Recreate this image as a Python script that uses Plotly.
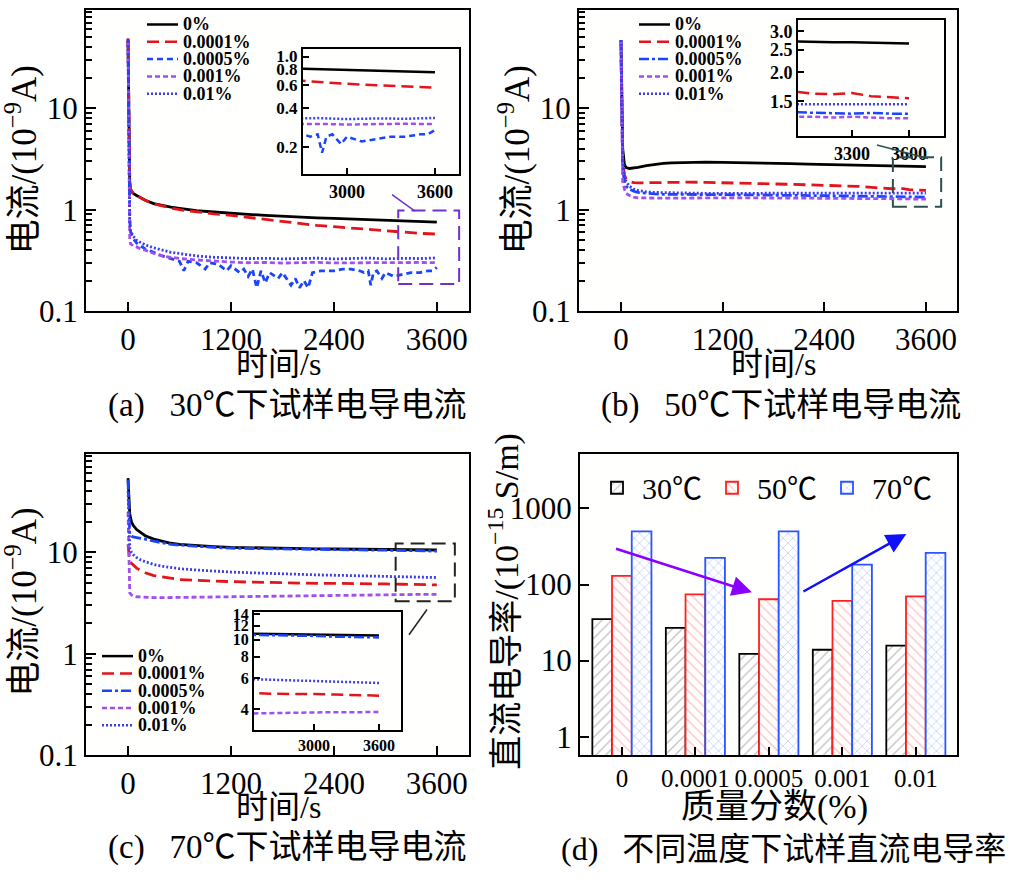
import math
import plotly.graph_objects as go

W, H = 1021, 884
FONT = "Liberation Serif, Noto Sans CJK SC, serif"

# ---------------- data ----------------
series_names = ["0%", "0.0001%", "0.0005%", "0.001%", "0.01%"]

# (a) 30 C
t_a = [0, 10, 20, 30, 60, 100, 150, 200, 300, 400, 500, 600, 800, 1000, 1200, 1400,
       1600, 1800, 2000, 2200, 2400, 2600, 2800, 3000, 3200, 3400, 3600]
a_0 = [48, 4.0, 1.8, 1.55, 1.45, 1.38, 1.30, 1.24, 1.15, 1.10, 1.06, 1.03, 0.98, 0.95, 0.92, 0.90,
       0.88, 0.86, 0.85, 0.83, 0.82, 0.81, 0.80, 0.79, 0.78, 0.765, 0.755]
a_1 = [49, 5.0, 2.0, 1.6, 1.45, 1.38, 1.30, 1.24, 1.14, 1.08, 1.04, 1.00, 0.95, 0.91, 0.88, 0.84,
       0.80, 0.76, 0.73, 0.70, 0.68, 0.66, 0.635, 0.615, 0.60, 0.585, 0.575]
a_3 = [45, 2.0, 0.50, 0.46, 0.44, 0.43, 0.41, 0.40, 0.37, 0.35, 0.34, 0.33, 0.32, 0.31, 0.305, 0.30,
       0.302, 0.298, 0.30, 0.303, 0.299, 0.30, 0.301, 0.298, 0.30, 0.302, 0.30]
a_4 = [46, 3.0, 0.75, 0.62, 0.55, 0.50, 0.47, 0.45, 0.42, 0.40, 0.38, 0.37, 0.35, 0.34, 0.335, 0.33,
       0.332, 0.328, 0.33, 0.333, 0.327, 0.33, 0.334, 0.328, 0.332, 0.33, 0.335]
t_a2 = [0, 10, 20, 30, 60, 100, 150, 200, 300, 400, 500, 600, 650, 700, 800, 900, 950, 1050, 1150,
        1200, 1300, 1350, 1400, 1450, 1500, 1550, 1600, 1650, 1750, 1800, 1900, 1950, 2000, 2050,
        2100, 2150, 2250, 2400, 2500, 2600, 2700, 2750, 2800, 2830, 2860, 2900, 2960, 3000, 3050,
        3100, 3200, 3300, 3400, 3500, 3550, 3600]
a_2 = [47, 3.0, 0.8, 0.6, 0.52, 0.47, 0.44, 0.41, 0.38, 0.35, 0.33, 0.31, 0.25, 0.31, 0.30, 0.26,
       0.30, 0.29, 0.25, 0.28, 0.24, 0.26, 0.22, 0.26, 0.17, 0.25, 0.19, 0.24, 0.21, 0.24, 0.18, 0.21,
       0.17, 0.20, 0.17, 0.24, 0.25, 0.25, 0.26, 0.26, 0.25, 0.24, 0.25, 0.18, 0.24, 0.25, 0.21, 0.24,
       0.23, 0.22, 0.23, 0.24, 0.24, 0.25, 0.25, 0.27]

# (b) 50 C
t_b = [0, 10, 20, 40, 60, 100, 150, 200, 300, 400, 500, 600, 800, 1000, 1200, 1400, 1600, 1800,
       2000, 2200, 2400, 2600, 2800, 3000, 3100, 3200, 3300, 3400, 3500, 3600]
b_0 = [47, 10, 4.0, 2.8, 2.6, 2.55, 2.58, 2.62, 2.72, 2.80, 2.86, 2.90, 2.93, 2.94, 2.93, 2.92, 2.90,
       2.88, 2.85, 2.82, 2.80, 2.77, 2.74, 2.71, 2.70, 2.69, 2.69, 2.68, 2.67, 2.66]
b_1 = [30, 6.0, 3.0, 2.2, 2.0, 1.90, 1.85, 1.84, 1.85, 1.86, 1.87, 1.88, 1.87, 1.86, 1.85, 1.83, 1.82,
       1.80, 1.78, 1.76, 1.74, 1.72, 1.70, 1.65, 1.62, 1.61, 1.63, 1.58, 1.56, 1.55]
b_2 = [47, 6.0, 2.5, 1.9, 1.7, 1.60, 1.52, 1.48, 1.45, 1.43, 1.42, 1.42, 1.41, 1.41, 1.41, 1.40, 1.40,
       1.39, 1.39, 1.38, 1.38, 1.37, 1.36, 1.35, 1.34, 1.34, 1.33, 1.34, 1.33, 1.33]
b_3 = [45, 4.0, 1.9, 1.6, 1.45, 1.38, 1.33, 1.31, 1.30, 1.30, 1.30, 1.30, 1.31, 1.31, 1.31, 1.31, 1.30,
       1.30, 1.30, 1.30, 1.30, 1.30, 1.30, 1.29, 1.29, 1.28, 1.29, 1.28, 1.27, 1.27]
b_4 = [47, 8.0, 3.0, 2.2, 1.9, 1.70, 1.60, 1.55, 1.50, 1.48, 1.47, 1.46, 1.46, 1.45, 1.45, 1.45, 1.45,
       1.46, 1.45, 1.45, 1.46, 1.45, 1.46, 1.46, 1.46, 1.45, 1.46, 1.46, 1.45, 1.46]

# (c) 70 C
t_c = [0, 10, 20, 40, 60, 100, 150, 200, 300, 400, 500, 600, 800, 1000, 1200, 1400, 1600, 1800,
       2000, 2200, 2400, 2600, 2800, 3000, 3200, 3400, 3600]
c_0 = [54, 30, 24, 20, 18.5, 16.8, 15.5, 14.6, 13.5, 12.8, 12.3, 12.0, 11.6, 11.4, 11.2, 11.1, 11.0,
       10.95, 10.9, 10.85, 10.8, 10.75, 10.7, 10.7, 10.65, 10.6, 10.55]
c_1 = [12, 9.0, 8.2, 7.8, 7.5, 7.0, 6.6, 6.3, 5.9, 5.7, 5.5, 5.4, 5.3, 5.2, 5.15, 5.1, 5.05,
       5.0, 5.0, 4.95, 4.95, 4.9, 4.9, 4.88, 4.85, 4.8, 4.78]
c_2 = [52, 20, 15, 14.5, 14.2, 14.0, 13.8, 13.5, 12.9, 12.4, 12.0, 11.8, 11.4, 11.2, 11.0, 10.9, 10.85,
       10.8, 10.75, 10.7, 10.7, 10.6, 10.55, 10.5, 10.4, 10.35, 10.3]
c_3 = [25, 8.0, 4.0, 3.8, 3.72, 3.65, 3.62, 3.6, 3.58, 3.58, 3.59, 3.6, 3.62, 3.65, 3.68, 3.7, 3.72,
       3.74, 3.76, 3.78, 3.8, 3.81, 3.82, 3.83, 3.84, 3.85, 3.85]
c_4 = [40, 14, 11, 10, 9.5, 8.9, 8.4, 8.1, 7.6, 7.3, 7.1, 6.9, 6.7, 6.5, 6.4, 6.3, 6.2,
       6.1, 6.05, 6.0, 5.95, 5.9, 5.85, 5.8, 5.75, 5.7, 5.65]

# (d) conductivity
conc = ["0", "0.0001", "0.0005", "0.001", "0.01"]
temps = ["30℃", "50℃", "70℃"]
s30 = [35, 27, 12.3, 13.9, 15.7]
s50 = [130, 74, 64, 61, 70]
s70 = [500, 224, 500, 183, 260]

# ---------------- styles ----------------
colors = ["#000000", "#e3141b", "#1a45ff", "#a24ef0", "#3c3cf0"]
dash_a = ["solid", "12px,6px", "6px,4px", "5px,3px", "2px,2px"]
dash_bc = ["solid", "12px,6px", "10px,3px,3px,3px", "5px,3px", "2px,2px"]


def fx(px):
    return px / W


def fy(py):
    return 1 - py / H


fig = go.Figure()


def add_panel(ts, ys, dashes, xa, ya, width=2.8):
    for t, y, c, d, n in zip(ts, ys, colors, dashes, series_names):
        fig.add_trace(go.Scatter(x=t, y=y, mode="lines", name=n, showlegend=False,
                                 line=dict(color=c, width=width, dash=d),
                                 xaxis=xa, yaxis=ya, hoverinfo="skip"))


ts_a = [t_a, t_a, t_a2, t_a, t_a]
ys_a = [a_0, a_1, a_2, a_3, a_4]
ts_b = [t_b] * 5
ys_b = [b_0, b_1, b_2, b_3, b_4]
ts_c = [t_c] * 5
ys_c = [c_0, c_1, c_2, c_3, c_4]

add_panel(ts_a, ys_a, dash_a, "x", "y")
add_panel(ts_a, ys_a, dash_a, "x2", "y2", 2.5)
add_panel(ts_b, ys_b, dash_bc, "x3", "y3")
add_panel(ts_b, ys_b, dash_bc, "x4", "y4", 2.5)
add_panel(ts_c, ys_c, dash_bc, "x5", "y5")
add_panel(ts_c, ys_c, dash_bc, "x6", "y6", 2.5)

bar_styles = [
    dict(line="#000000", shape="/", fg="#8a8a8a"),
    dict(line="#ff2020", shape="\\", fg="#ff8a8a"),
    dict(line="#2a55ff", shape="x", fg="#7e98ff"),
]
for vals, name, st in zip([s30, s50, s70], temps, bar_styles):
    fig.add_trace(go.Bar(x=conc, y=vals, name=name, xaxis="x7", yaxis="y7",
                         marker=dict(color="white",
                                     line=dict(color=st["line"], width=1.8),
                                     pattern=dict(shape=st["shape"], fgcolor=st["fg"],
                                                  bgcolor="white", size=7, solidity=0.2))))

# ---------------- axes ----------------
minor_log = [m * 10 ** e for e in range(-2, 4) for m in range(2, 10)]

common = dict(showline=True, linewidth=2, linecolor="black", mirror=True,
              showgrid=False, zeroline=False, ticks="inside", tickwidth=1.5,
              tickcolor="black")
tick_main = dict(size=31, family=FONT, color="black")
tick_in = dict(size=17, family=FONT, color="black", weight="bold")


def main_x(dom, anchor, rng):
    return dict(common, domain=dom, anchor=anchor, range=rng, tickmode="array",
                tickvals=[0, 1200, 2400, 3600], ticklen=9, tickfont=tick_main)


def main_y(dom, anchor):
    return dict(common, domain=dom, anchor=anchor, type="log", range=[-1, 1.97],
                tickmode="array", tickvals=[0.1, 1, 10], ticktext=["0.1", "1", "10"],
                ticklen=10, tickfont=tick_main,
                minor=dict(tickmode="array", tickvals=minor_log, ticks="inside",
                           ticklen=6, tickwidth=1.5, tickcolor="black", showgrid=False))


fig.update_layout(
    xaxis=main_x([fx(86), fx(469)], "y", [-490, 3975]),
    yaxis=main_y([fy(313), fy(3)], "x"),
    xaxis2=dict(common, domain=[fx(303), fx(459)], anchor="y2", range=[2700, 3764],
                tickmode="array", tickvals=[3000, 3600], ticklen=6,
                tickfont=dict(tick_in, size=18)),
    yaxis2=dict(common, domain=[fy(172), fy(43)], anchor="x2", type="log", range=[-0.91, 0.06],
                tickmode="array", tickvals=[0.2, 0.4, 0.6, 0.8, 1.0],
                ticktext=["0.2", "0.4", "0.6", "0.8", "1.0"], ticklen=6, tickfont=tick_in),
    xaxis3=main_x([fx(579), fx(957)], "y3", [-496, 3967]),
    yaxis3=main_y([fy(313), fy(3)], "x3"),
    xaxis4=dict(common, domain=[fx(798), fx(944)], anchor="y4", range=[3016, 3784],
                tickmode="array", tickvals=[3300, 3600], ticklen=6,
                tickfont=dict(tick_in, size=18)),
    yaxis4=dict(common, domain=[fy(133), fy(13)], anchor="x4", type="log", range=[0.027, 0.527],
                tickmode="array", tickvals=[1.5, 2.0, 2.5, 3.0],
                ticktext=["1.5", "2.0", "2.5", "3.0"], ticklen=6,
                tickfont=dict(tick_in, size=18)),
    xaxis5=main_x([fx(86), fx(469)], "y5", [-490, 3975]),
    yaxis5=main_y([fy(770), fy(460)], "x5"),
    xaxis6=dict(common, domain=[fx(254), fx(401)], anchor="y6", range=[2446, 3803],
                tickmode="array", tickvals=[3000, 3600], ticklen=6,
                tickfont=dict(tick_in, size=16)),
    yaxis6=dict(common, domain=[fy(744), fy(623)], anchor="x6", type="log", range=[0.483, 1.156],
                tickmode="array", tickvals=[4, 6, 8, 10, 12, 14],
                ticktext=["4", "6", "8", "10", "12", "14"], ticklen=6,
                tickfont=dict(tick_in, size=16)),
    xaxis7=dict(common, domain=[fx(580), fx(957)], anchor="y7", type="category",
                range=[-0.57, 4.56], ticklen=8, tickangle=0,
                tickfont=dict(size=25, family=FONT, color="black")),
    yaxis7=dict(common, domain=[fy(770), fy(460)], anchor="x7", type="log", range=[-0.243, 3.715],
                tickmode="array", tickvals=[1, 10, 100, 1000],
                ticktext=["1", "10", "100", "1000"], ticklen=9, tickfont=tick_main),
    barmode="group", bargap=0.196, bargroupgap=0,
)

# ---------------- shapes & annotations ----------------
shapes = []
annotations = []

# zoom boxes (data coordinates)
shapes.append(dict(type="rect", xref="x", yref="y", x0=3150, x1=3860, y0=0.185, y1=0.98,
                   line=dict(color="#7030d0", width=2, dash="14px,7px")))
shapes.append(dict(type="rect", xref="x3", yref="y3", x0=3210, x1=3780, y0=1.07, y1=3.3,
                   line=dict(color="#2f4f4f", width=2, dash="14px,7px")))
shapes.append(dict(type="rect", xref="x5", yref="y5", x0=3120, x1=3810, y0=3.3, y1=12.2,
                   line=dict(color="#222222", width=2, dash="14px,7px")))
# connectors
for (x0, y0, x1, y1, c) in [(392, 193, 415, 210, "#7030d0"),
                             (877, 142, 928, 156, "#2f4f4f"),
                             (427, 620, 409, 646, "#222222")]:
    shapes.append(dict(type="line", xref="paper", yref="paper", x0=fx(x0), y0=fy(y0),
                       x1=fx(x1), y1=fy(y1), line=dict(color=c, width=1.5)))


def add_legend(x0, y0, dashes, dy=17.8):
    for i, (n, c, d) in enumerate(zip(series_names, colors, dashes)):
        y = y0 + i * dy
        shapes.append(dict(type="line", xref="paper", yref="paper", x0=fx(x0), x1=fx(x0 + 31),
                           y0=fy(y), y1=fy(y), line=dict(color=c, width=2.5, dash=d)))
        annotations.append(dict(xref="paper", yref="paper", x=fx(x0 + 34), y=fy(y), text=n,
                                xanchor="left", yanchor="middle", showarrow=False,
                                font=dict(size=18, family=FONT, color="black", weight="bold")))


add_legend(147, 18, dash_a)
add_legend(639, 18, dash_bc)
add_legend(102, 668, dash_bc)


def label(x, y, text, size, angle=0):
    annotations.append(dict(xref="paper", yref="paper", x=fx(x), y=fy(y), text=text,
                            xanchor="center", yanchor="middle", showarrow=False,
                            textangle=angle, font=dict(size=size, family=FONT, color="black")))


ytitle = "电流/(10<sup>−9</sup>A)"
label(22, 158, ytitle, 35, -90)
label(515, 158, ytitle, 35, -90)
label(22, 613, ytitle, 35, -90)
label(504, 612, "直流电导率/(10<sup>−15</sup> S/m)", 34, -90)
label(278, 367, "时间/s", 32)
label(773, 367, "时间/s", 32)
label(278, 823, "时间/s", 32)
label(774, 823, "质量分数(%)", 34)
sp = "\u00a0\u00a0\u00a0"
label(287, 410, "(a)" + sp + "30℃下试样电导电流", 33)
label(781, 410, "(b)" + sp + "50℃下试样电导电流", 33)
label(287, 865, "(c)" + sp + "70℃下试样电导电流", 33)
label(783, 866, "(d)" + sp + "不同温度下试样直流电导率", 32)

# trend arrows in (d)
annotations.append(dict(xref="x7", yref="y7", axref="x7", ayref="y7",
                        x=1.77, y=math.log10(79), ax=-0.1, ay=math.log10(299),
                        showarrow=True, arrowhead=2, arrowsize=1.6, arrowwidth=2.5,
                        arrowcolor="#8a00ff", text=""))
annotations.append(dict(xref="x7", yref="y7", axref="x7", ayref="y7",
                        x=3.87, y=math.log10(460), ax=2.45, ay=math.log10(79),
                        showarrow=True, arrowhead=2, arrowsize=1.6, arrowwidth=2.5,
                        arrowcolor="#1010ff", text=""))

fig.update_layout(
    shapes=shapes, annotations=annotations,
    width=W, height=H, margin=dict(l=0, r=0, t=0, b=0),
    paper_bgcolor="white", plot_bgcolor="#fffffe",
    font=dict(family=FONT, color="black"),
    legend=dict(orientation="h", x=fx(592), y=fy(468), xanchor="left", yanchor="top",
                font=dict(size=30, family=FONT, color="black"), bgcolor="rgba(0,0,0,0)",
                itemwidth=40, tracegroupgap=0),
)

fig.write_html("out.html", config={"displayModeBar": False},
               post_script="document.body.style.margin='0px';")
